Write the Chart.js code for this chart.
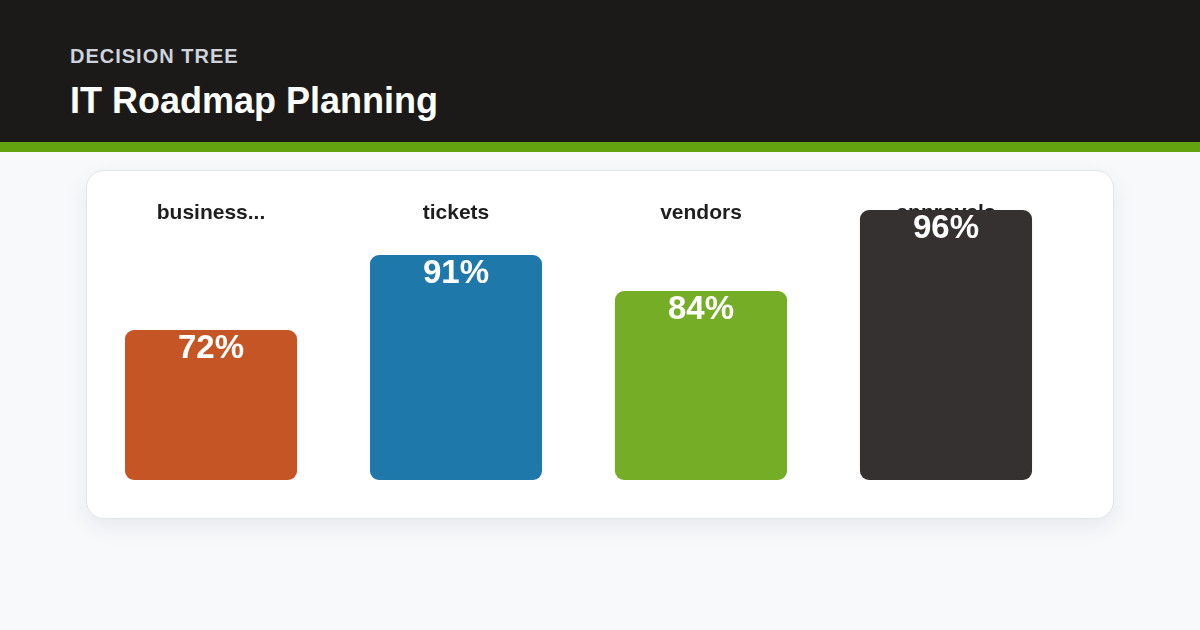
<!DOCTYPE html>
<html>
<head>
<meta charset="utf-8">
<script src="https://cdn.jsdelivr.net/npm/chart.js@4.4.1/dist/chart.umd.min.js"></script>
<style>
  html, body { margin: 0; padding: 0; }
  body {
    width: 1200px; height: 630px; overflow: hidden;
    background: #f8f9fb;
    font-family: "Liberation Sans", Arial, sans-serif;
    position: relative;
  }
  .header {
    position: absolute; left: 0; top: 0; width: 1200px; height: 142px;
    background: #1b1a19;
    border-bottom: 10px solid #63a30f;
  }
  .kicker {
    position: absolute; left: 70px; top: 45px;
    font-size: 20px; font-weight: bold; color: #cfd3dc; letter-spacing: 1px;
  }
  .title {
    position: absolute; left: 70px; top: 80px;
    font-size: 36px; font-weight: bold; color: #ffffff;
  }
  .card {
    position: absolute; left: 86px; top: 170px; width: 1026px; height: 347px;
    background: #ffffff; border: 1px solid #e3e6eb; border-radius: 18px;
    box-shadow: 0 8px 22px rgba(30, 40, 60, 0.08);
  }
  .chart-box {
    position: absolute; left: -1px; top: 0px; width: 1028px; height: 348px;
  }
</style>
</head>
<body>
<div class="header">
  <div class="kicker">DECISION TREE</div>
  <div class="title">IT Roadmap Planning</div>
</div>
<div class="card">
  <div class="chart-box"><canvas id="chart"></canvas></div>
</div>
<script>
// categories shown above each bar
const categories = ['business...', 'tickets', 'vendors', 'approvals'];
// bar heights (score out of 100)
const scores = [50, 75, 63, 90];
// percentages printed inside the bars
const percentLabels = [72, 91, 84, 96];
const barColors = ['#c55525', '#1f78aa', '#76ad27', '#353130'];

const categoryLabels = {
  id: 'categoryLabels',
  beforeDatasetsDraw(chart) {
    const ctx = chart.ctx;
    const x = chart.scales.x;
    ctx.save();
    ctx.font = 'bold 21px "Liberation Sans", Arial, sans-serif';
    ctx.fillStyle = '#1e1e1e';
    ctx.textAlign = 'center';
    ctx.textBaseline = 'middle';
    categories.forEach((c, i) => {
      ctx.fillText(c, x.getPixelForValue(i), 42);
    });
    ctx.restore();
  }
};

const valueLabels = {
  id: 'valueLabels',
  afterDatasetsDraw(chart) {
    const ctx = chart.ctx;
    const meta = chart.getDatasetMeta(0);
    ctx.save();
    ctx.font = 'bold 33px "Liberation Sans", Arial, sans-serif';
    ctx.fillStyle = '#ffffff';
    ctx.textAlign = 'center';
    ctx.textBaseline = 'middle';
    meta.data.forEach((bar, i) => {
      ctx.fillText(percentLabels[i] + '%', bar.x, bar.y + 19);
    });
    ctx.restore();
  }
};

new Chart(document.getElementById('chart'), {
  type: 'bar',
  data: {
    labels: categories,
    datasets: [{
      data: scores,
      backgroundColor: barColors,
      borderRadius: 9,
      borderSkipped: false,
      categoryPercentage: 0.8,
      barPercentage: 0.878
    }]
  },
  options: {
    responsive: true,
    maintainAspectRatio: false,
    animation: false,
    layout: { padding: { left: 2.5, right: 45.5, top: 9, bottom: 39 } },
    plugins: { legend: { display: false }, tooltip: { enabled: false } },
    scales: {
      x: { display: false },
      y: { display: false, min: 0, max: 100 }
    }
  },
  plugins: [categoryLabels, valueLabels]
});
</script>
</body>
</html>
